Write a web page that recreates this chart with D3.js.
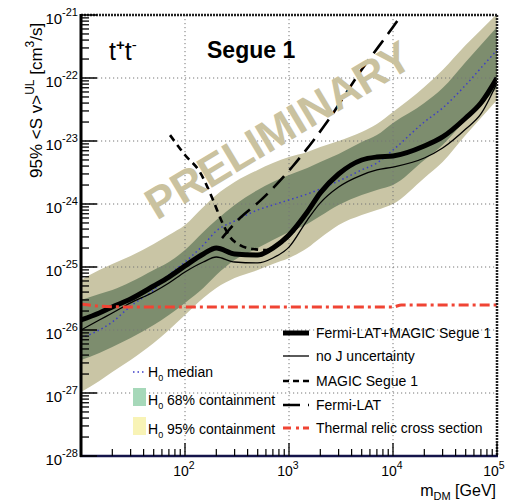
<!DOCTYPE html>
<html><head><meta charset="utf-8">
<script src="https://cdn.jsdelivr.net/npm/d3@7"></script>
<style>body{margin:0;background:#fff} text{font-family:"Liberation Sans",Arial,sans-serif;fill:#000}</style>
</head><body><svg id="c" width="516" height="502"></svg>
<script>
// ---- data (mass in GeV, <sigma v> in cm^3/s) ----
const masses = [10,15,20,30,50,70,100,150,200,300,500,700,1000,1500,2000,3000,5000,7000,1e4,2e4,3e4,5e4,7e4,1e5];
const combined = [1.44e-26,1.86e-26,2.32e-26,3.10e-26,4.99e-26,6.93e-26,1.04e-25,1.61e-25,2.00e-25,1.61e-25,1.55e-25,2.00e-25,3.22e-25,7.46e-25,1.50e-24,2.99e-24,4.99e-24,5.57e-24,5.78e-24,8.33e-24,1.16e-23,2.32e-23,4.01e-23,1.00e-22];
const noJ = [1.00e-26,1.44e-26,1.86e-26,2.69e-26,4.01e-26,5.57e-26,8.33e-26,1.20e-25,1.44e-25,1.20e-25,1.16e-25,1.39e-25,2.07e-25,5.57e-25,1.04e-24,1.86e-24,2.88e-24,3.47e-24,3.86e-24,5.37e-24,7.74e-24,1.55e-23,2.69e-23,8.33e-23];
const median = [7.46e-27,1.00e-26,1.34e-26,2.40e-26,4.31e-26,7.46e-26,1.20e-25,2.23e-25,3.73e-25,5.37e-25,8.04e-25,9.64e-25,1.16e-24,1.44e-24,1.73e-24,2.32e-24,3.47e-24,4.48e-24,7.19e-24,2.00e-23,3.34e-23,7.74e-23,1.44e-22,2.78e-22];
const up95 = [6.22e-26,8.96e-26,1.12e-25,1.50e-25,2.32e-25,3.22e-25,4.64e-25,8.96e-25,1.39e-24,2.23e-24,3.47e-24,4.48e-24,5.57e-24,6.68e-24,8.04e-24,1.00e-23,1.39e-23,1.86e-23,2.88e-23,7.19e-23,1.34e-22,3.34e-22,5.78e-22,1.04e-21];
const up68 = [2.99e-26,3.73e-26,4.31e-26,5.78e-26,8.96e-26,1.20e-25,1.86e-25,3.60e-25,5.57e-25,9.64e-25,1.67e-24,2.23e-24,2.88e-24,3.73e-24,4.64e-24,6.22e-24,9.64e-24,1.24e-23,1.93e-23,4.01e-23,6.93e-23,1.80e-22,3.34e-22,6.45e-22];
const lo68 = [3.34e-27,4.31e-27,5.37e-27,7.46e-27,1.20e-26,1.73e-26,2.69e-26,4.64e-26,7.46e-26,1.29e-25,2.00e-25,2.69e-25,3.60e-25,4.82e-25,6.45e-25,9.64e-25,1.39e-24,1.67e-24,2.00e-24,4.99e-24,8.65e-24,2.15e-23,3.73e-23,6.93e-23];
const lo95 = [1.04e-27,1.55e-27,2.15e-27,3.34e-27,6.22e-27,1.00e-26,1.73e-26,3.22e-26,4.64e-26,6.68e-26,8.96e-26,1.12e-25,1.39e-25,2.00e-25,2.88e-25,4.64e-25,6.68e-25,8.04e-25,1.00e-24,2.59e-24,4.64e-24,1.24e-23,2.32e-23,4.48e-23];
const magicMass = [71.8,100,139,186,227,271,338,451,614,819,1092,1500];
const magicSv = [1.24e-23,6.0e-24,3.22e-24,1.16e-24,5.18e-25,2.99e-25,2.23e-25,1.93e-25,1.86e-25,2.32e-25,3.60e-25,7.19e-25];
const fermiMass = [227,338,526,1092,2319,4816,10000,14560];
const fermiSv = [2.88e-25,6.0e-25,1.12e-24,4.01e-24,2.00e-23,1.24e-22,6.45e-22,1.55e-21];
const relicMass = [10,15,30,100,1e4,1.2e4,1e5];
const relicSv = [2.59e-26,2.40e-26,2.32e-26,2.32e-26,2.32e-26,2.49e-26,2.49e-26];
const yTickExps = [-21,-22,-23,-24,-25,-26,-27,-28];
const xTickExps = [2,3,4,5];
const legendRight = ["Fermi-LAT+MAGIC Segue 1","no J uncertainty","MAGIC Segue 1","Fermi-LAT","Thermal relic cross section"];

// ---- scales ----
const L=81,R=497,T=15,B=456;
const x = d3.scaleLog().domain([10,1e5]).range([L,R]);
const y = d3.scaleLog().domain([1e-28,1e-21]).range([B,T]);
const svg = d3.select("#c");
svg.append("defs").append("clipPath").attr("id","clip").append("rect")
  .attr("x",L).attr("y",T).attr("width",R-L).attr("height",B-T);
const g = svg.append("g").attr("clip-path","url(#clip)");

const band = (lo,hi)=>d3.area().x((d,i)=>x(masses[i])).y0((d,i)=>y(lo[i])).y1((d,i)=>y(hi[i])).curve(d3.curveMonotoneX)(masses);
g.append("path").attr("d",band(lo95,up95)).attr("fill","#c9c5a5");
g.append("path").attr("d",band(lo68,up68)).attr("fill","#7d8d6e");

// PRELIMINARY watermark
svg.append("text").attr("transform","translate(286,143) rotate(-31)")
  .attr("text-anchor","middle").style("font-size","44px").style("font-weight","bold")
  .style("fill","#cac29f").text("PRELIMINARY");

// grid
const gridX = [100,1000,10000], gridY = [1e-22,1e-23,1e-24,1e-25,1e-26,1e-27];
g.selectAll(".gx").data(gridX).enter().append("line")
  .attr("x1",d=>x(d)).attr("x2",d=>x(d)).attr("y1",T).attr("y2",B)
  .attr("stroke","#777").attr("stroke-width",1).attr("stroke-dasharray","1.2,2.8");
g.selectAll(".gy").data(gridY).enter().append("line")
  .attr("y1",d=>y(d)).attr("y2",d=>y(d)).attr("x1",L).attr("x2",R)
  .attr("stroke","#777").attr("stroke-width",1).attr("stroke-dasharray","1.2,2.8");

const line = (ms,vs)=>d3.line().x((d,i)=>x(ms[i])).y((d,i)=>y(vs[i])).curve(d3.curveMonotoneX)(ms);
g.append("path").attr("d",line(masses,median)).attr("fill","none").attr("stroke","#3d3dc8").attr("stroke-width",1.5).attr("stroke-dasharray","1.5,3");
g.append("path").attr("d",line(fermiMass,fermiSv)).attr("fill","none").attr("stroke","#000").attr("stroke-width",2.6).attr("stroke-dasharray","16,8");
g.append("path").attr("d",line(magicMass,magicSv)).attr("fill","none").attr("stroke","#000").attr("stroke-width",2.6).attr("stroke-dasharray","7,5");
g.append("path").attr("d",line(masses,noJ)).attr("fill","none").attr("stroke","#000").attr("stroke-width",1.3);
g.append("path").attr("d",line(masses,combined)).attr("fill","none").attr("stroke","#000").attr("stroke-width",5);
g.append("path").attr("d",line(relicMass,relicSv)).attr("fill","none").attr("stroke","#f04434").attr("stroke-width",3).attr("stroke-dasharray","10,4,3,4");

// axes frame
svg.append("line").attr("x1",L).attr("x2",R).attr("y1",T).attr("y2",T).attr("stroke","#222").attr("stroke-width",2.5).attr("stroke-dasharray","2,1");
svg.append("line").attr("x1",R).attr("x2",R).attr("y1",T).attr("y2",B).attr("stroke","#222").attr("stroke-width",2.5).attr("stroke-dasharray","2,1");
svg.append("line").attr("x1",L-1).attr("x2",R+1).attr("y1",B).attr("y2",B).attr("stroke","#14144a").attr("stroke-width",2.5);
svg.append("line").attr("x1",L).attr("x2",L).attr("y1",T-1).attr("y2",B+1).attr("stroke","#000").attr("stroke-width",3);

// ticks
const yMinor=[], xMinor=[];
for(let e=-28;e<-21;e++) for(let k=2;k<=9;k++) yMinor.push(k*Math.pow(10,e));
for(let e=1;e<5;e++) for(let k=2;k<=9;k++) xMinor.push(k*Math.pow(10,e));
svg.selectAll(".ymn").data(yMinor).enter().append("line").attr("x1",L).attr("x2",L+8).attr("y1",d=>y(d)).attr("y2",d=>y(d)).attr("stroke","#000").attr("stroke-width",1.3);
svg.selectAll(".ymj").data(yTickExps).enter().append("line").attr("x1",L).attr("x2",L+16).attr("y1",d=>y(Math.pow(10,d))).attr("y2",d=>y(Math.pow(10,d))).attr("stroke","#000").attr("stroke-width",1.5);
svg.selectAll(".xmn").data(xMinor).enter().append("line").attr("y1",B).attr("y2",B-7).attr("x1",d=>x(d)).attr("x2",d=>x(d)).attr("stroke","#000").attr("stroke-width",1.2);
svg.selectAll(".xmj").data(xTickExps).enter().append("line").attr("y1",B).attr("y2",B-13).attr("x1",d=>x(Math.pow(10,d))).attr("x2",d=>x(Math.pow(10,d))).attr("stroke","#000").attr("stroke-width",1.3);

// tick labels
yTickExps.forEach(e=>{
  const t=svg.append("text").attr("x",78).attr("y",y(Math.pow(10,e))+9).attr("text-anchor","end").style("font-size","15px");
  t.append("tspan").text("10");
  t.append("tspan").attr("dy",-8).style("font-size","11px").text(String(e));
});
xTickExps.forEach(e=>{
  const xx = x(Math.pow(10,e)) - (e===5 ? 3 : 1);
  const t=svg.append("text").attr("x",xx).attr("y",476).attr("text-anchor","middle").style("font-size","14px");
  t.append("tspan").text("10");
  t.append("tspan").attr("dy",-7).style("font-size","10.5px").text(String(e));
});

// axis titles
const xt=svg.append("text").attr("x",496).attr("y",496).attr("text-anchor","end").style("font-size","16px");
xt.append("tspan").text("m");
xt.append("tspan").attr("dy",4).style("font-size","11px").text("DM");
xt.append("tspan").attr("dy",-4).text(" [GeV]");
const yt=svg.append("text").attr("transform","translate(42,178) rotate(-90)").attr("text-anchor","start").style("font-size","17px");
yt.append("tspan").text("95% <S v>");
yt.append("tspan").attr("dy",-8).style("font-size","12px").text("UL");
yt.append("tspan").attr("dy",8).text(" [cm");
yt.append("tspan").attr("dy",-8).style("font-size","12px").text("3");
yt.append("tspan").attr("dy",8).text("/s]");

// in-plot labels
const tt=svg.append("text").attr("x",109).attr("y",60).style("font-size","25px");
tt.append("tspan").text("t");
tt.append("tspan").attr("dy",-10).style("font-size","15px").style("font-weight","bold").text("+");
tt.append("tspan").attr("dy",10).text("t");
tt.append("tspan").attr("dy",-10).style("font-size","15px").text("-");
svg.append("text").attr("x",207).attr("y",58).style("font-size","23px").style("font-weight","bold").text("Segue 1");

// left legend
svg.append("line").attr("x1",133).attr("x2",146).attr("y1",372).attr("y2",372).attr("stroke","#3d3dc8").attr("stroke-width",1.5).attr("stroke-dasharray","1.5,3");
svg.append("rect").attr("x",133).attr("y",388).attr("width",13).attr("height",18).attr("fill","#a6d8b9");
svg.append("rect").attr("x",133).attr("y",417).attr("width",13).attr("height",18).attr("fill","#f8f3b6");
[["median",377],["68% containment",405],["95% containment",434]].forEach(([s,yy])=>{
  const t=svg.append("text").attr("x",148).attr("y",yy).style("font-size","14px");
  t.append("tspan").text("H");
  t.append("tspan").attr("dy",4).style("font-size","9px").text("0");
  t.append("tspan").attr("dy",-4).text(" "+s);
});

// right legend
const ly=[333,356,381,405,428];
svg.append("line").attr("x1",283).attr("x2",309).attr("y1",ly[0]).attr("y2",ly[0]).attr("stroke","#000").attr("stroke-width",5);
svg.append("line").attr("x1",283).attr("x2",309).attr("y1",ly[1]).attr("y2",ly[1]).attr("stroke","#000").attr("stroke-width",1.3);
svg.append("line").attr("x1",283).attr("x2",309).attr("y1",ly[2]).attr("y2",ly[2]).attr("stroke","#000").attr("stroke-width",2.6).attr("stroke-dasharray","6,4");
svg.append("line").attr("x1",283).attr("x2",309).attr("y1",ly[3]).attr("y2",ly[3]).attr("stroke","#000").attr("stroke-width",2.6).attr("stroke-dasharray","17,8");
svg.append("line").attr("x1",283).attr("x2",309).attr("y1",ly[4]).attr("y2",ly[4]).attr("stroke","#f04434").attr("stroke-width",3).attr("stroke-dasharray","8,5,3,4");
legendRight.forEach((s,i)=>{
  svg.append("text").attr("x",316).attr("y",ly[i]+5).style("font-size","14px").text(s);
});
</script></body></html>
